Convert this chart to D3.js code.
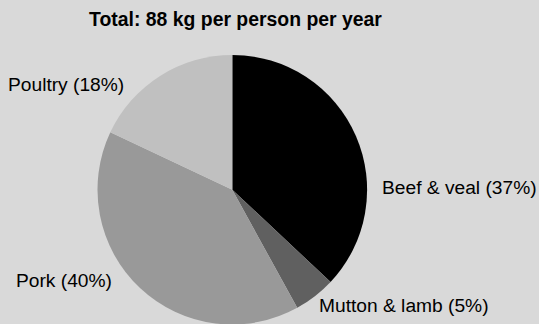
<!DOCTYPE html>
<html>
<head>
<meta charset="utf-8">
<script src="https://cdn.jsdelivr.net/npm/d3@7"></script>
<style>
  html, body { margin: 0; padding: 0; background: #d9d9d9; }
  svg { display: block; }
  text { font-family: "Liberation Sans", Arial, sans-serif; fill: #000; }
</style>
</head>
<body>
<script>
// Meat consumption by type (share of total, %)
const categories = ["Beef & veal", "Mutton & lamb", "Pork", "Poultry"];
const shares = [37, 5, 40, 18];
const sliceColors = ["#000000", "#606060", "#999999", "#c0c0c0"];
const titleText = "Total: 88 kg per person per year";

const W = 539, H = 324;
const cx = 232.3, cy = 189.7, radius = 134.8;

// Label anchor placement per category: [x, baseline y, text-anchor]
const labelPlacement = {
  "Beef & veal":   [382, 194, "start"],
  "Mutton & lamb": [319, 312, "start"],
  "Pork":          [16, 287, "start"],
  "Poultry":       [8, 91, "start"]
};

const svg = d3.select("body").append("svg")
  .attr("width", W).attr("height", H);

svg.append("rect").attr("width", W).attr("height", H).attr("fill", "#d9d9d9");

svg.append("text")
  .attr("x", 235.5).attr("y", 25.5)
  .attr("text-anchor", "middle")
  .style("font-size", "19.4px")
  .style("font-weight", "bold")
  .text(titleText);

const data = categories.map((c, i) => ({ name: c, value: shares[i], color: sliceColors[i] }));

const pie = d3.pie().value(d => d.value).sort(null);
const arc = d3.arc().innerRadius(0).outerRadius(radius);

const g = svg.append("g").attr("transform", `translate(${cx},${cy})`);

g.selectAll("path.slice")
  .data(pie(data))
  .join("path")
  .attr("class", "slice")
  .attr("d", arc)
  .attr("fill", d => d.data.color);

svg.selectAll("text.label")
  .data(data)
  .join("text")
  .attr("class", "label")
  .attr("x", d => labelPlacement[d.name][0])
  .attr("y", d => labelPlacement[d.name][1])
  .attr("text-anchor", d => labelPlacement[d.name][2])
  .style("font-size", "19.2px")
  .text(d => `${d.name} (${d.value}%)`);
</script>
</body>
</html>
